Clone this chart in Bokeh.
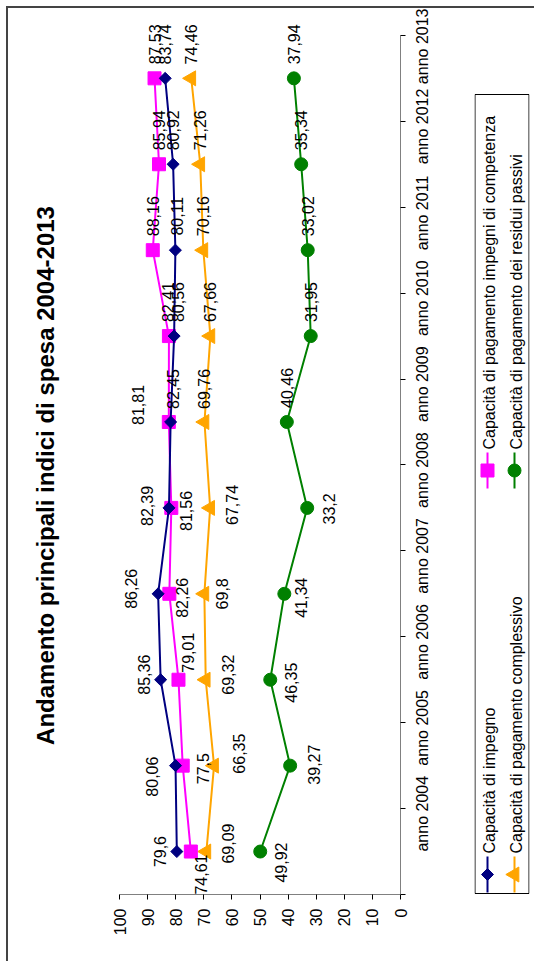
import math
from bokeh.plotting import figure
from bokeh.models import Range1d, FixedTicker, ColumnDataSource, LabelSet
from bokeh.layouts import row
from bokeh.embed import file_html
from bokeh.resources import INLINE
from bokeh.core.properties import value

# ---------------- data ----------------
years = ["anno 2004", "anno 2005", "anno 2006", "anno 2007", "anno 2008",
         "anno 2009", "anno 2010", "anno 2011", "anno 2012", "anno 2013"]
impegno = [79.6, 80.06, 85.36, 86.26, 82.39, 81.81, 80.56, 80.11, 80.92, 83.74]
competenza = [74.61, 77.5, 79.01, 82.26, 81.56, 82.45, 82.41, 88.16, 85.94, 87.53]
complessivo = [69.09, 66.35, 69.32, 69.8, 67.74, 69.76, 67.66, 70.16, 71.26, 74.46]
residui = [49.92, 39.27, 46.35, 41.34, 33.2, 40.46, 31.95, 33.02, 35.34, 37.94]
value_ticks = [0, 10, 20, 30, 40, 50, 60, 70, 80, 90, 100]
series_names = ["Capacità di impegno",
                "Capacità di pagamento impegni di competenza",
                "Capacità di pagamento complessivo",
                "Capacità di pagamento dei residui passivi"]
title_text = "Andamento principali indici di spesa 2004-2013"

# label offsets in screen pixels (dx right, dy down)
imp_dx = [-17, -24, -17, -27, -22, -33, 4, 2, 0, 0]
imp_dy = [0, 11, -5, -5, -2, -17, -34, -34, -34, -34]
com_dx = [10, 20, 10, 13, 15, 4, -1, 0, 0, 0]
com_dy = [23, 3, -27, 4, 3, -33, -34, -34, -34, -34]
cpl_dx = [22, 25, 22, 18, 22, 0, 0, 0, 0, 0]
cpl_dy = [-8, -12, -5, 0, -3, -33, -34, -34, -34, -34]
res_dx = [21, 24, 21, 17, 22, 0, 0, 0, 0, 0]
res_dy = [11, -1, 3, 4, 1, -34, -34, -34, -34, -34]

FONT = "Liberation Sans"
NAVY, MAGENTA, ORANGE, GREEN = "#000080", "#FF00FF", "#FFA500", "#008000"

n = len(years)
centers = [i + 0.5 for i in range(n)]
bounds = [float(i) for i in range(n + 1)]

H = 953
TOP_B, BOT_B = 14, 67
FH = H - TOP_B - BOT_B


def blank_fig(w, xr, left=0, right=0):
    f = figure(width=w, height=H, x_range=Range1d(0, xr), y_range=Range1d(0, FH),
               output_backend="svg", toolbar_location=None,
               x_axis_location=None, y_axis_location=None,
               min_border_left=left, min_border_right=right,
               min_border_top=TOP_B, min_border_bottom=BOT_B)
    f.xgrid.visible = False
    f.ygrid.visible = False
    f.outline_line_color = None
    return f


# ---------------- title figure ----------------
tf = blank_fig(72, 72)
tsrc = ColumnDataSource(dict(x=[37], y=[419], t=[title_text]))
tf.text("x", "y", text="t", source=tsrc, angle=math.pi / 2, text_align="center",
        text_baseline="middle", text_font=value(FONT), text_font_size="24px",
        text_font_style="bold", text_color="black")

# ---------------- main figure ----------------
p = figure(width=394, height=H, x_range=Range1d(100, 0), y_range=Range1d(0, n + 0.15),
           output_backend="svg", toolbar_location=None,
           x_axis_location="below", y_axis_location="right",
           min_border_left=39, min_border_right=74,
           min_border_top=TOP_B, min_border_bottom=BOT_B)
p.xgrid.visible = False
p.ygrid.visible = False
p.outline_line_color = None

xa = p.xaxis[0]
xa.ticker = FixedTicker(ticks=value_ticks)
xa.major_label_orientation = math.pi / 2
xa.major_label_text_font = FONT
xa.major_label_text_font_size = "16px"
xa.major_label_text_color = "black"
xa.major_tick_in = 0
xa.major_tick_out = 5
xa.minor_tick_out = 0
xa.minor_tick_in = 0
xa.axis_line_color = "#808080"
xa.major_tick_line_color = "black"
xa.major_label_standoff = 9

ya = p.yaxis[0]
ya.bounds = (0, n)
ya.ticker = FixedTicker(ticks=centers, minor_ticks=bounds)
ya.major_label_overrides = {c: y for c, y in zip(centers, years)}
ya.major_label_orientation = math.pi / 2
ya.major_label_text_font = FONT
ya.major_label_text_font_size = "16px"
ya.major_label_text_color = "black"
ya.major_tick_in = 0
ya.major_tick_out = 0
ya.minor_tick_in = 0
ya.minor_tick_out = 5
ya.minor_tick_line_color = "black"
ya.axis_line_color = "#808080"
ya.major_label_standoff = 17


def fmt(v):
    return str(v).replace(".", ",")


def add_series(vals, color, marker, size, angle, dx, dy):
    src = ColumnDataSource(dict(x=vals, y=centers, t=[fmt(v) for v in vals],
                                xo=dx, yo=[-d for d in dy]))
    p.line("x", "y", source=src, line_color=color, line_width=2)
    p.scatter("x", "y", source=src, marker=marker, size=size, angle=angle,
              fill_color=color, line_color=color)
    p.add_layout(LabelSet(x="x", y="y", text="t", source=src, x_offset="xo", y_offset="yo",
                          angle=math.pi / 2, text_align="center", text_baseline="middle",
                          text_font=value(FONT), text_font_size="16px", text_color="black"))


add_series(complessivo, ORANGE, "triangle", 15, math.pi / 2, cpl_dx, cpl_dy)
add_series(residui, GREEN, "circle", 13, 0, res_dx, res_dy)
add_series(competenza, MAGENTA, "square", 13, 0, com_dx, com_dy)
add_series(impegno, NAVY, "square", 8.5, math.pi / 4, imp_dx, imp_dy)

# ---------------- legend figure ----------------
lg = blank_fig(60, 55, 0, 5)
box = ColumnDataSource(dict(l=[0.5], r=[54.5], b=[1.0], t=[800.0]))
lg.quad(left="l", right="r", bottom="b", top="t", source=box,
        fill_color=None, line_color="black", line_width=1)

leg_x = [13, 13, 40, 40]
leg_y = [20, 424, 20, 424]
leg_colors = [NAVY, MAGENTA, ORANGE, GREEN]
leg_markers = [("square", 8.5, math.pi / 4), ("square", 13, 0),
               ("triangle", 15, math.pi / 2), ("circle", 13, 0)]
for name, cx, cy, col, (mk, sz, ang) in zip(series_names, leg_x, leg_y, leg_colors, leg_markers):
    lsrc = ColumnDataSource(dict(x=[cx], y=[cy], y0=[cy - 18], y1=[cy + 18],
                                 tx=[cx + 1.5], ty=[cy + 21], t=[name]))
    lg.segment(x0="x", y0="y0", x1="x", y1="y1", source=lsrc, line_color=col, line_width=2)
    lg.scatter("x", "y", source=lsrc, marker=mk, size=sz, angle=ang, fill_color=col, line_color=col)
    lg.text("tx", "ty", text="t", source=lsrc, angle=math.pi / 2, text_align="left",
            text_baseline="middle", text_font=value(FONT), text_font_size="16px",
            text_color="black")

layout = row(tf, p, lg, styles={"margin-left": "6px", "margin-top": "6px",
                                "border-left": "2px solid #444444",
                                "border-top": "2px solid #444444"})

open("out.html", "w").write(file_html(layout, INLINE))
